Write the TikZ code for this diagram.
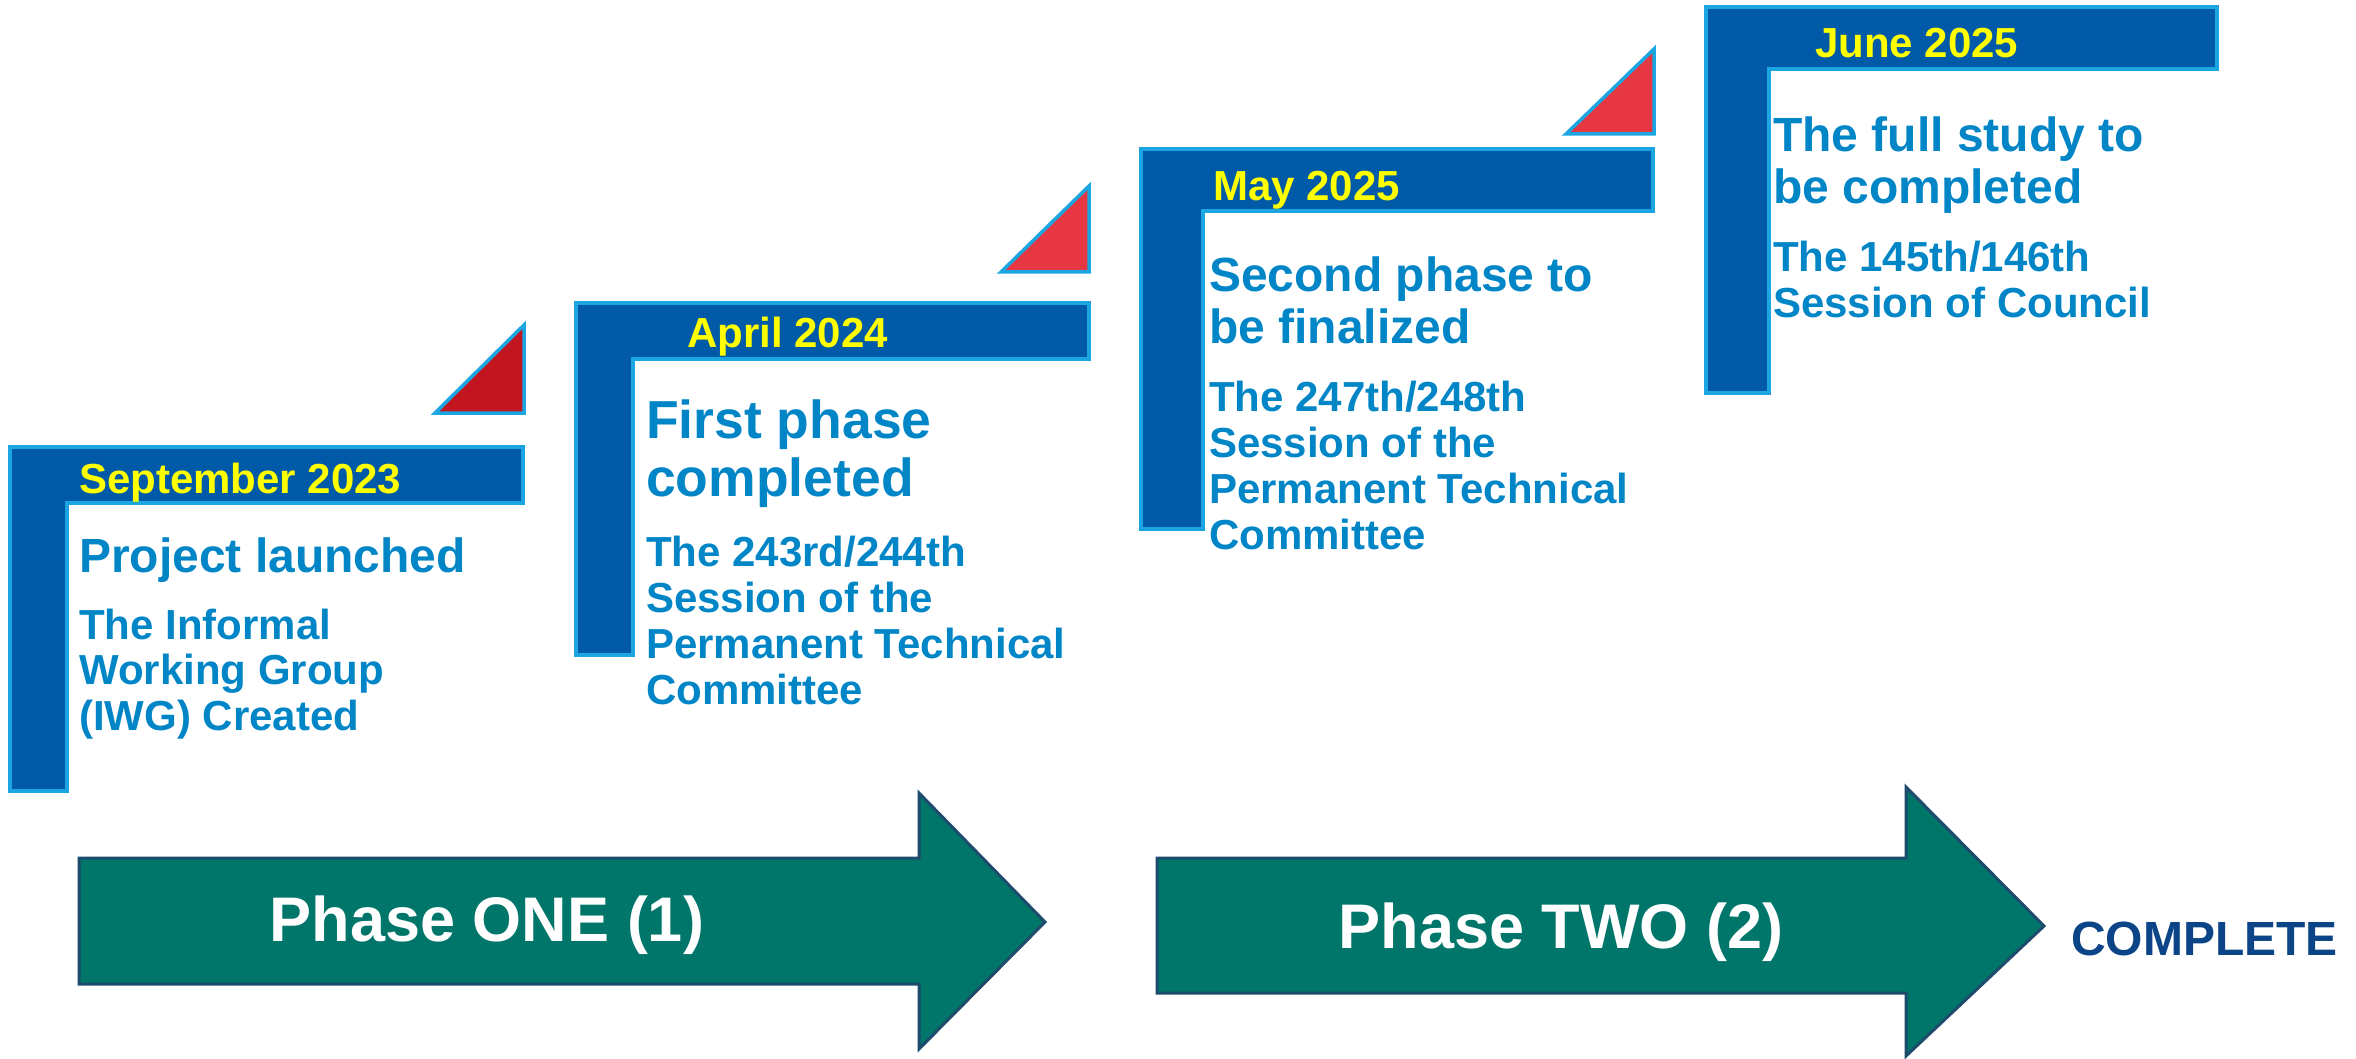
\documentclass[tikz,border=0pt]{standalone}
\usepackage{fontspec}
\setmainfont{Liberation Sans}
\definecolor{bracketblue}{HTML}{005AA7}
\definecolor{edgeblue}{HTML}{1BA6E2}
\definecolor{textblue}{HTML}{0085C7}
\definecolor{dateyellow}{HTML}{FFFF00}
\definecolor{darkred}{HTML}{C1161F}
\definecolor{flagred}{HTML}{E63743}
\definecolor{phaseteal}{HTML}{00766B}
\definecolor{arrowedge}{HTML}{1D4B6B}
\definecolor{completeblue}{HTML}{0C4587}
\begin{document}
\begin{tikzpicture}[x=1pt,y=-1pt,
  bracket/.style={fill=bracketblue, draw=edgeblue, line width=3.5pt},
  flag/.style={draw=edgeblue, line width=3.5pt},
  datetxt/.style={anchor=base west, inner sep=0pt, text=dateyellow, font=\fontsize{42}{44}\selectfont\bfseries},
  headtxt/.style={anchor=base west, inner sep=0pt, text=textblue, align=left, font=\fontsize{48}{#1}\selectfont\bfseries},
  headtxt/.default=52,
  subtxt/.style={anchor=base west, inner sep=0pt, text=textblue, align=left, font=\fontsize{42}{#1}\selectfont\bfseries},
  subtxt/.default=45.5,
  phasearrow/.style={fill=phaseteal, draw=arrowedge, line width=3pt},
  phasetxt/.style={anchor=base, inner sep=0pt, text=white, font=\fontsize{63}{70}\selectfont\bfseries}]
\useasboundingbox (0,0) rectangle (2356,1059);

% Milestone 1 (multi-line nodes are placed by the baseline of their last line)
\draw[bracket] (10,447) -- (523,447) -- (523,503) -- (67,503) -- (67,791) -- (10,791) -- cycle;
\draw[flag, fill=darkred] (524,325) -- (524,413) -- (435,413) -- cycle;
\node[datetxt] (d1) at (79,493) {September 2023};
\node[headtxt] (h1) at (79,572) {Project launched};
\node[subtxt=45.5] (s1) at (79,730) {The Informal\\Working Group\\(IWG) Created};

% Milestone 2
\draw[bracket] (576,303) -- (1089,303) -- (1089,359) -- (633,359) -- (633,655) -- (576,655) -- cycle;
\draw[flag, fill=flagred] (1089,186) -- (1089,272) -- (1001,272) -- cycle;
\node[datetxt] (d2) at (687,347) {April 2024};
\node[headtxt, font=\fontsize{53.5}{58}\selectfont\bfseries] (h2) at (646,496) {First phase\\completed};
\node[subtxt=46] (s2) at (646,704) {The 243rd/244th\\Session of the\\Permanent Technical\\Committee};

% Milestone 3
\draw[bracket] (1141,149) -- (1653,149) -- (1653,211) -- (1203,211) -- (1203,529) -- (1141,529) -- cycle;
\draw[flag, fill=flagred] (1654,49) -- (1654,134) -- (1566,134) -- cycle;
\node[datetxt] (d3) at (1213,201) {May 2025};
\node[headtxt=52] (h3) at (1209,344) {Second phase to\\be finalized};
\node[subtxt=45.7] (s3) at (1209,549) {The 247th/248th\\Session of the\\Permanent Technical\\Committee};

% Milestone 4
\draw[bracket] (1706,7) -- (2217,7) -- (2217,69) -- (1769,69) -- (1769,393) -- (1706,393) -- cycle;
\node[datetxt] (d4) at (1815,58) {June 2025};
\node[headtxt=52] (h4) at (1773,204) {The full study to\\be completed};
\node[subtxt=45] (s4) at (1773,317) {The 145th/146th\\Session of Council};

% Phase arrows
\draw[phasearrow] (79,858) -- (919,858) -- (919,793) -- (1045,922) -- (919,1049) -- (919,984) -- (79,984) -- cycle;
\node[phasetxt] (p1) at (487,941) {Phase ONE (1)};
\draw[phasearrow] (1157,858) -- (1906,858) -- (1906,787) -- (2044,926) -- (1906,1056) -- (1906,993) -- (1157,993) -- cycle;
\node[phasetxt] (p2) at (1561,948) {Phase TWO (2)};
\node[anchor=base west, inner sep=0pt, text=completeblue, font=\fontsize{48}{52}\selectfont\bfseries] (done) at (2071,955) {COMPLETE};
\end{tikzpicture}
\end{document}
